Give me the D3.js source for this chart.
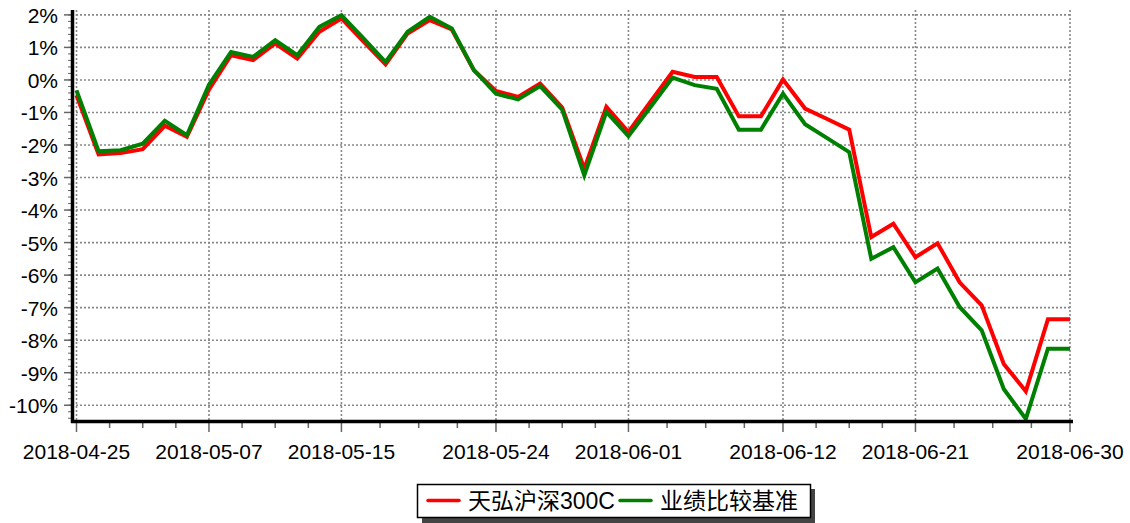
<!DOCTYPE html>
<html>
<head>
<meta charset="utf-8">
<script src="https://cdn.jsdelivr.net/npm/d3@7"></script>
<style>
  body { margin: 0; background: #fff; }
  text { font-family: "Liberation Sans", Arial, "Noto Sans CJK SC", sans-serif; fill: #000; }
</style>
</head>
<body>
<svg id="chart" width="1130" height="523"></svg>
<script>
// trading days (x axis is by index, not by calendar time)
var dates = ['2018-04-25','2018-04-26','2018-04-27','2018-05-02','2018-05-03','2018-05-04',
  '2018-05-07','2018-05-08','2018-05-09','2018-05-10','2018-05-11','2018-05-14','2018-05-15',
  '2018-05-16','2018-05-17','2018-05-18','2018-05-21','2018-05-22','2018-05-23','2018-05-24',
  '2018-05-25','2018-05-28','2018-05-29','2018-05-30','2018-05-31','2018-06-01',
  '2018-06-04','2018-06-05','2018-06-06','2018-06-07','2018-06-08','2018-06-11','2018-06-12',
  '2018-06-13','2018-06-14','2018-06-15','2018-06-19','2018-06-20','2018-06-21',
  '2018-06-22','2018-06-25','2018-06-26','2018-06-27','2018-06-28','2018-06-29','2018-06-30'];

// cumulative return, %
var fundValues = [-0.47,-2.29,-2.25,-2.13,-1.41,-1.75,-0.30,0.76,0.61,1.12,0.66,1.48,1.89,
  1.18,0.48,1.43,1.84,1.55,0.30,-0.34,-0.52,-0.11,-0.85,-2.73,-0.83,-1.60,
  -0.67,0.25,0.09,0.09,-1.12,-1.12,0.01,-0.88,-1.20,-1.53,-4.83,-4.42,-5.45,
  -5.02,-6.22,-6.93,-8.73,-9.57,-7.36,-7.36];
var benchValues = [-0.32,-2.19,-2.16,-1.96,-1.26,-1.70,-0.15,0.86,0.71,1.22,0.76,1.63,1.99,
  1.28,0.55,1.48,1.94,1.58,0.30,-0.42,-0.60,-0.19,-0.91,-2.93,-0.98,-1.73,
  -0.83,0.07,-0.16,-0.27,-1.53,-1.53,-0.42,-1.36,-1.79,-2.22,-5.50,-5.14,-6.22,
  -5.80,-6.98,-7.70,-9.50,-10.42,-8.26,-8.26];

var seriesNames = ['天弘沪深300C', '业绩比较基准'];
var seriesColors = ['#ff0000', '#008000'];

var labelIdx = [0, 6, 12, 19, 25, 32, 38, 45];
var yTicks = d3.range(-10, 3, 1);

var svg = d3.select('#chart');

var x = d3.scaleLinear().domain([0, dates.length - 1]).range([76.5, 1070]);
var y = d3.scaleLinear().domain([-10.5, 2.15]).range([421.5, 10]);

var grid = svg.append('g');

// horizontal grid
grid.selectAll('.hg').data(yTicks).enter().append('line')
  .attr('x1', 72).attr('x2', 1071)
  .attr('y1', function(d){ return y(d); }).attr('y2', function(d){ return y(d); })
  .attr('stroke', '#888').attr('stroke-width', 1.6).attr('stroke-dasharray', '2,2');

// vertical grid
grid.selectAll('.vg').data(labelIdx).enter().append('line')
  .attr('x1', function(d){ return x(d); }).attr('x2', function(d){ return x(d); })
  .attr('y1', 10).attr('y2', 421)
  .attr('stroke', '#888').attr('stroke-width', 1.6).attr('stroke-dasharray', '2,2');

// minor x ticks: 4 steps between each labelled tick
var minorX = [];
for (var i = 0; i < labelIdx.length - 1; i++) {
  var a = labelIdx[i], b = labelIdx[i+1];
  for (var k = 1; k < 4; k++) minorX.push(a + (b - a) * k / 4);
}

// lines
var line = d3.line()
  .x(function(d, i){ return x(i); })
  .y(function(d){ return y(d); });

[fundValues, benchValues].forEach(function(vals, s){
  svg.append('path')
    .datum(vals)
    .attr('d', line)
    .attr('fill', 'none')
    .attr('stroke', seriesColors[s])
    .attr('stroke-width', 4)
    .attr('stroke-linejoin', 'miter');
});

// y axis
var yAxis = svg.append('g');
yAxis.selectAll('.mt').data(d3.range(-10.4, 2.1, 0.2)).enter().append('line')
  .attr('x1', 68).attr('x2', 72)
  .attr('y1', function(d){ return y(d); }).attr('y2', function(d){ return y(d); })
  .attr('stroke', '#666').attr('stroke-width', 1);
yAxis.selectAll('.tk').data(yTicks).enter().append('line')
  .attr('x1', 64).attr('x2', 72)
  .attr('y1', function(d){ return y(d); }).attr('y2', function(d){ return y(d); })
  .attr('stroke', '#666').attr('stroke-width', 1.5);
yAxis.selectAll('text').data(yTicks).enter().append('text')
  .attr('x', 58).attr('y', function(d){ return y(d) + 8; })
  .attr('text-anchor', 'end')
  .style('font-size', '21px')
  .text(function(d){ return d + '%'; });
yAxis.append('line')
  .attr('x1', 72.5).attr('x2', 72.5).attr('y1', 10).attr('y2', 423)
  .attr('stroke', '#000').attr('stroke-width', 3.5);

// x axis
var xAxis = svg.append('g');
xAxis.selectAll('.mx').data(minorX).enter().append('line')
  .attr('x1', function(d){ return x(d); }).attr('x2', function(d){ return x(d); })
  .attr('y1', 422).attr('y2', 428)
  .attr('stroke', '#666').attr('stroke-width', 1.5);
xAxis.selectAll('.tk').data(labelIdx).enter().append('line')
  .attr('x1', function(d){ return x(d); }).attr('x2', function(d){ return x(d); })
  .attr('y1', 422).attr('y2', 432)
  .attr('stroke', '#666').attr('stroke-width', 1.5);
xAxis.selectAll('text').data(labelIdx).enter().append('text')
  .attr('x', function(d){ return x(d); }).attr('y', 459)
  .attr('text-anchor', 'middle')
  .style('font-size', '21px')
  .text(function(d){ return dates[d]; });
xAxis.append('line')
  .attr('x1', 71).attr('x2', 1073).attr('y1', 421.5).attr('y2', 421.5)
  .attr('stroke', '#000').attr('stroke-width', 3.5);

// legend
var lg = svg.append('g');
lg.append('rect').attr('x', 422).attr('y', 489).attr('width', 393).attr('height', 34)
  .attr('fill', '#444');
lg.append('rect').attr('x', 417.5).attr('y', 484.5).attr('width', 393).attr('height', 33)
  .attr('fill', '#fff').attr('stroke', '#000').attr('stroke-width', 1.5);
var legX = [428, 620];
seriesNames.forEach(function(name, s){
  lg.append('line')
    .attr('x1', legX[s]).attr('x2', legX[s] + 31).attr('y1', 500.5).attr('y2', 500.5)
    .attr('stroke', seriesColors[s]).attr('stroke-width', 3.5).attr('stroke-linecap', 'round');
  lg.append('text')
    .attr('x', legX[s] + 40).attr('y', 509)
    .style('font-size', '23px')
    .text(name);
});
</script>
</body>
</html>
